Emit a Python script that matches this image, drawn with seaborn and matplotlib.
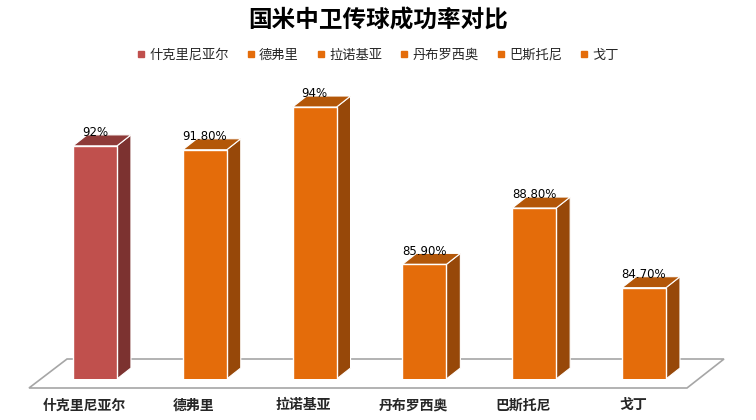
import numpy as np
import matplotlib
matplotlib.use("Agg")
import matplotlib.pyplot as plt
import seaborn as sns
from matplotlib.patches import Polygon
from matplotlib.lines import Line2D
from matplotlib.transforms import ScaledTranslation

# datos
players = ["什克里尼亚尔", "德弗里", "拉诺基亚", "丹布罗西奥", "巴斯托尼", "戈丁"]
rates = [92, 91.8, 94, 85.9, 88.8, 84.7]
rate_labels = ["92%", "91.80%", "94%", "85.90%", "88.80%", "84.70%"]
front_colors = ["#C0504D", "#E46C0A", "#E46C0A", "#E46C0A", "#E46C0A", "#E46C0A"]
top_colors = ["#8E3B39", "#B35709", "#B35709", "#B35709", "#B35709", "#B35709"]
side_colors = ["#7C3230", "#974809", "#974809", "#974809", "#974809", "#974809"]

sns.set_style("white")
plt.rcParams['font.family'] = ['Noto Sans CJK SC', 'DejaVu Sans']

W, H = 756, 420
fig = plt.figure(figsize=(7.56, 4.2), dpi=100)
ax = fig.add_axes([29.1 / W, 41 / H, 680.8 / W, 291.4 / H])

sns.barplot(x=players, y=rates, hue=players, palette=front_colors, width=0.4,
            dodge=False, legend=False, ax=ax, edgecolor="white", linewidth=1,
            saturation=1, zorder=3)
ax.set_xlim(-0.6, 5.6)
ax.set_ylim(80, 95)
sns.despine(ax=ax, left=True, bottom=True)
ax.set_yticks([])
ax.set_xlabel("")
ax.set_ylabel("")

# suelo en perspectiva
floor = Polygon([(29 / W, 1 - 388 / H), (687 / W, 1 - 388 / H),
                 (724 / W, 1 - 359 / H), (67 / W, 1 - 359 / H)],
                closed=True, transform=fig.transFigure, facecolor="white",
                edgecolor="#A6A6A6", linewidth=1.2, zorder=1, clip_on=False)
ax.add_patch(floor)

# profundidad de las barras (pixeles -> datos)
inv = ax.transData.inverted()
p0 = inv.transform(ax.transData.transform((0, 80)))
p1 = inv.transform(ax.transData.transform((0, 80)) + np.array([14, 11]))
dx, dy = p1 - p0
y0 = ax.get_ylim()[0]

for i, bar in enumerate(ax.patches[:len(players)]):
    x0 = bar.get_x()
    x1 = x0 + bar.get_width()
    top = bar.get_y() + bar.get_height()
    side = Polygon([(x1, y0), (x1, top), (x1 + dx, top + dy), (x1 + dx, y0 + dy)],
                   closed=True, facecolor=side_colors[i], edgecolor="white",
                   linewidth=0.8, zorder=2)
    cap = Polygon([(x0, top), (x1, top), (x1 + dx, top + dy), (x0 + dx, top + dy)],
                  closed=True, facecolor=top_colors[i], edgecolor="white",
                  linewidth=0.8, zorder=2)
    ax.add_patch(side)
    ax.add_patch(cap)
    ax.annotate(rate_labels[i], (x0 + bar.get_width() / 2, top),
                xytext=(0, 9.5), textcoords="offset points", ha="center",
                va="center", fontsize=8.5, family="DejaVu Sans", color="black",
                annotation_clip=False, zorder=5)

# etiquetas del eje x
ax.set_xticks(range(len(players)))
ax.set_xticklabels(players, fontsize=10, fontweight="bold")
ax.tick_params(axis="x", length=0, pad=14)
shift = ScaledTranslation(-11 / 100, 0, fig.dpi_scale_trans)
for lab in ax.get_xticklabels():
    lab.set_transform(lab.get_transform() + shift)

fig.text(0.5, 1 - 21 / H, "国米中卫传球成功率对比", ha="center", va="center",
         fontsize=17, fontweight="bold", color="black")

handles = [Line2D([], [], marker="s", linestyle="none", markersize=5,
                  color=c) for c in front_colors]
fig.legend(handles, players, loc="center", bbox_to_anchor=(0.5, 1 - 55 / H),
           ncol=6, frameon=False, fontsize=9.5, handlelength=0.6,
           handletextpad=0.3, columnspacing=1.4)

fig.savefig("out.png", dpi=100)
